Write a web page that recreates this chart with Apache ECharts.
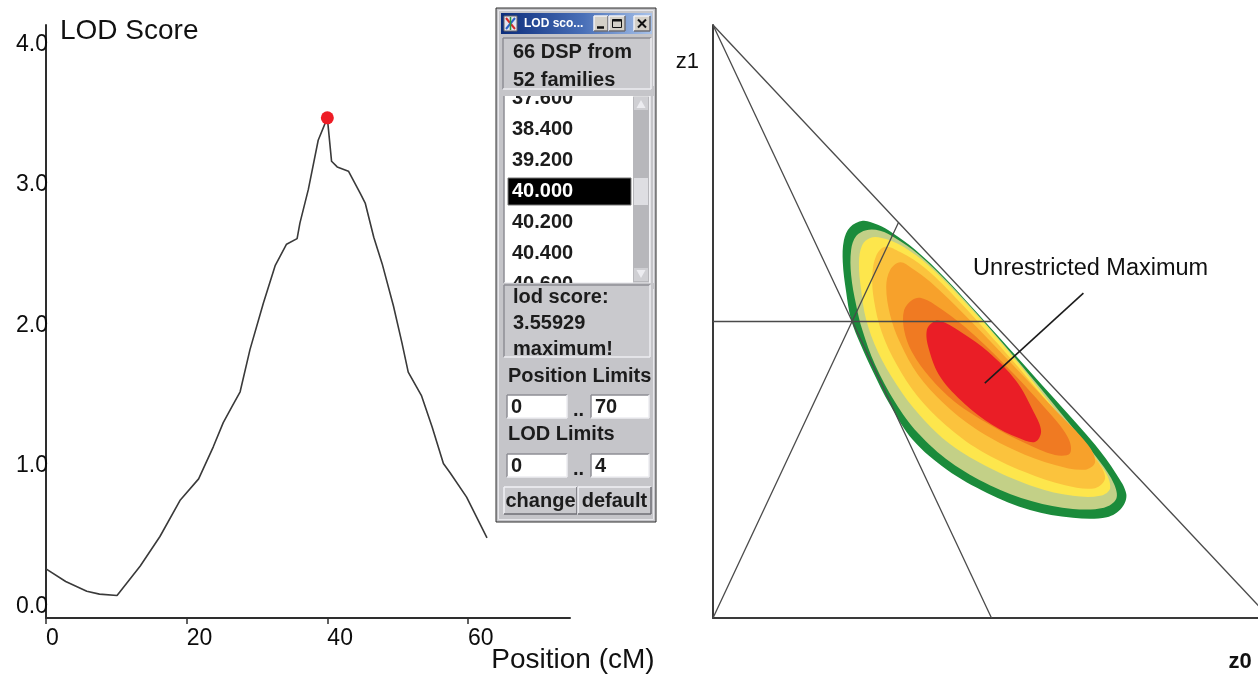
<!DOCTYPE html>
<html>
<head>
<meta charset="utf-8">
<title>LOD score</title>
<script src="https://cdn.jsdelivr.net/npm/echarts@6/dist/echarts.min.js"></script>
<style>
  html, body { margin: 0; padding: 0; background: #fff; }
  #chart { width: 1258px; height: 675px; }
</style>
</head>
<body>
<div id="chart"></div>
<script>
// LOD curve: position (cM) / LOD score
var positions = [0, 2.8, 5.8, 7.6, 10.1, 13.4, 16.2, 19.1, 21.7, 23.8, 25.2, 26.4, 27.6, 29.0, 30.9,
  32.6, 34.2, 35.7, 36.1, 37.3, 38.7, 40.0, 40.6, 41.4, 43.0, 44.7, 45.4, 46.6, 47.8, 49.4,
  50.6, 51.5, 53.4, 54.9, 56.5, 57.5, 59.8, 62.7];
var lodScores = [0.35, 0.26, 0.19, 0.17, 0.16, 0.37, 0.58, 0.84, 0.99, 1.22, 1.39, 1.50, 1.61, 1.91, 2.24,
  2.51, 2.66, 2.70, 2.81, 3.05, 3.40, 3.55929, 3.25, 3.21, 3.18, 3.02, 2.95, 2.71, 2.52, 2.22,
  1.96, 1.75, 1.58, 1.36, 1.10, 1.03, 0.86, 0.57];
var peak = [40.0, 3.55929];
var xTicks = [0, 20, 40, 60];
var yTicks = [0, 1, 2, 3, 4];

// window panel texts
var windowTitle = 'LOD sco...';
var infoLines = ['66 DSP from', '52 families'];
var listItems = ['37.600', '38.400', '39.200', '40.000', '40.200', '40.400', '40.600'];
var selectedItem = '40.000';
var lodLines = ['lod score:', '3.55929', 'maximum!'];
var positionLimits = ['0', '70'];
var lodLimits = ['0', '4'];
var buttons = ['change', 'default'];

// z0 / z1 triangle
var hypotenuse = [[0, 1], [1, 0]];
var apexLine = [[0, 1], [0.5, 0]];
var originLine = [[0, 0], [0.333, 0.667]];
var halfLine = [[0, 0.5], [0.5, 0.5]];
var leaderLine = [[0.665, 0.548], [0.488, 0.396]];
var labelPoint = [0.467, 0.59];

// likelihood contours, outer to inner (z0, z1)
var contourGreen = [[0.269, 0.670], [0.246, 0.659], [0.235, 0.637], [0.233, 0.600], [0.239, 0.550], [0.248, 0.503],
  [0.266, 0.459], [0.286, 0.418], [0.318, 0.359], [0.359, 0.300], [0.420, 0.250], [0.492, 0.211], [0.569, 0.182],
  [0.646, 0.169], [0.707, 0.170], [0.734, 0.186], [0.742, 0.209], [0.724, 0.243], [0.686, 0.292], [0.623, 0.359],
  [0.515, 0.472], [0.417, 0.573], [0.363, 0.621], [0.323, 0.649], [0.296, 0.663]];
var contourKhaki = [[0.275, 0.654], [0.257, 0.644], [0.248, 0.621], [0.248, 0.578], [0.257, 0.528], [0.268, 0.486],
  [0.291, 0.427], [0.327, 0.364], [0.368, 0.312], [0.426, 0.263], [0.497, 0.224], [0.573, 0.197], [0.646, 0.184],
  [0.702, 0.186], [0.724, 0.201], [0.720, 0.226], [0.695, 0.263], [0.632, 0.337], [0.524, 0.459], [0.426, 0.562],
  [0.368, 0.614], [0.327, 0.641], [0.300, 0.653]];
var contourYellow = [[0.282, 0.641], [0.268, 0.629], [0.262, 0.600], [0.266, 0.553], [0.275, 0.503], [0.296, 0.449],
  [0.330, 0.393], [0.372, 0.341], [0.426, 0.293], [0.497, 0.253], [0.578, 0.221], [0.646, 0.206], [0.695, 0.206],
  [0.713, 0.219], [0.702, 0.250], [0.641, 0.320], [0.533, 0.447], [0.435, 0.550], [0.375, 0.604], [0.332, 0.631],
  [0.303, 0.641]];
var contourLightOrange = [[0.309, 0.626], [0.293, 0.611], [0.286, 0.578], [0.289, 0.536], [0.303, 0.482],
  [0.330, 0.427], [0.368, 0.373], [0.417, 0.326], [0.479, 0.283], [0.560, 0.246], [0.632, 0.224], [0.686, 0.219],
  [0.704, 0.236], [0.689, 0.266], [0.632, 0.329], [0.537, 0.435], [0.443, 0.533], [0.381, 0.590], [0.336, 0.617]];
var contourOrange = [[0.336, 0.600], [0.318, 0.587], [0.311, 0.558], [0.318, 0.511], [0.336, 0.464], [0.368, 0.410],
  [0.413, 0.363], [0.470, 0.320], [0.542, 0.283], [0.614, 0.258], [0.668, 0.250], [0.686, 0.263], [0.673, 0.292],
  [0.614, 0.351], [0.533, 0.432], [0.452, 0.511], [0.390, 0.567], [0.357, 0.590]];
var contourDarkOrange = [[0.357, 0.536], [0.343, 0.519], [0.343, 0.486], [0.357, 0.449], [0.390, 0.405],
  [0.435, 0.364], [0.497, 0.326], [0.560, 0.295], [0.614, 0.275], [0.641, 0.278], [0.637, 0.305], [0.596, 0.354],
  [0.524, 0.427], [0.452, 0.491], [0.399, 0.528], [0.372, 0.540]];
var contourRed = [[0.399, 0.501], [0.384, 0.486], [0.388, 0.452], [0.409, 0.405], [0.452, 0.361], [0.501, 0.326],
  [0.548, 0.304], [0.578, 0.297], [0.589, 0.315], [0.576, 0.347], [0.544, 0.400], [0.494, 0.449], [0.447, 0.481],
  [0.417, 0.498]];

var contours = [contourGreen, contourKhaki, contourYellow, contourLightOrange, contourOrange, contourDarkOrange, contourRed];
var contourColors = ['#1b8b3b', '#c3d087', '#fde64c', '#fbc33d', '#f7a12b', '#f07a22', '#ea1e26'];

var FONT = "'Liberation Sans', Arial, Helvetica, sans-serif";
var PANEL_BG = '#c5c5c9';

function rect(x, y, w, h, fill, stroke, z) {
    return { type: 'rect', shape: { x: x, y: y, width: w, height: h },
        style: { fill: fill || 'none', stroke: stroke || null, lineWidth: 1 }, z: z || 10, silent: true };
}
function line(x1, y1, x2, y2, color, width, z) {
    return { type: 'line', shape: { x1: x1, y1: y1, x2: x2, y2: y2 },
        style: { stroke: color, lineWidth: width || 1 }, z: z || 10, silent: true };
}
function text(x, y, s, opt) {
    opt = opt || {};
    return { type: 'text', z: opt.z || 12, silent: true,
        style: { x: x, y: y, text: s, fill: opt.fill || '#1c1c1c',
            font: (opt.weight || 'bold') + ' ' + (opt.size || 20) + 'px ' + FONT,
            align: opt.align || 'left', verticalAlign: 'middle' } };
}
function sunken(x, y, w, h, fill, z) {
    return [
        rect(x, y, w, h, fill, null, z),
        line(x, y, x + w, y, '#8e8e94', 1.5, z),
        line(x, y, x, y + h, '#8e8e94', 1.5, z),
        line(x, y + h, x + w, y + h, '#ececf0', 1.5, z),
        line(x + w, y, x + w, y + h, '#ececf0', 1.5, z)
    ];
}
function raised(x, y, w, h, fill, z) {
    return [
        rect(x, y, w, h, fill, null, z),
        line(x, y, x + w, y, '#f0f0f4', 1.5, z),
        line(x, y, x, y + h, '#f0f0f4', 1.5, z),
        line(x, y + h, x + w, y + h, '#6e6e74', 1.5, z),
        line(x + w, y, x + w, y + h, '#6e6e74', 1.5, z)
    ];
}

function buildPanel() {
    var els = [];
    // window frame
    els.push(rect(496, 8, 160, 514, PANEL_BG, '#2e2e2e', 5));
    els.push(rect(498.5, 10.5, 155, 509, null, '#e8e8ec', 6));
    // title bar
    var bar = rect(501, 13, 151, 21, '#0a2a78', null, 7);
    bar.style.fill = new echarts.graphic.LinearGradient(0, 0, 1, 0, [
        { offset: 0, color: '#0c2d7c' }, { offset: 0.55, color: '#4a70b8' }, { offset: 1, color: '#a9c3ea' }]);
    els.push(bar);
    els.push(rect(504, 16, 13, 15, '#e4e4f0', '#666', 8));
    els.push(line(506, 18, 515, 29, '#d42a2a', 2, 9));
    els.push(line(515, 18, 506, 29, '#2a62c8', 2, 9));
    els.push(line(510.5, 17, 510.5, 30, '#2a9a3a', 1.5, 9));
    els.push(text(524, 23.5, windowTitle, { fill: '#ffffff', size: 12, z: 9 }));
    // caption buttons
    els = els.concat(raised(594, 16, 14, 15, '#d4d0c8', 8));
    els = els.concat(raised(609, 16, 16, 15, '#d4d0c8', 8));
    els = els.concat(raised(634, 16, 16, 15, '#d4d0c8', 8));
    els.push(line(597, 27.5, 604, 27.5, '#111', 2.5, 9));
    els.push(rect(612.5, 19.5, 9, 8, null, '#111', 9));
    els.push(line(612.5, 20.5, 621.5, 20.5, '#111', 2, 9));
    els.push(line(638, 19.5, 646, 27.5, '#111', 2, 9));
    els.push(line(646, 19.5, 638, 27.5, '#111', 2, 9));

    // list box with items (clipped by covers drawn above)
    els = els.concat(sunken(504, 95, 146, 188, '#ffffff', 10));
    listItems.forEach(function (s, i) {
        var y = 98 + 31 * i;
        var sel = s === selectedItem;
        if (sel) els.push(rect(508, y - 13, 123, 27, '#000000', '#777', 11));
        els.push(text(512, y, s, { fill: sel ? '#ffffff' : '#1c1c1c', z: 12 }));
    });
    // scrollbar
    els.push(rect(633, 96.5, 16, 186, '#b7b7bb', null, 12.5));
    els.push(rect(634, 97, 14, 13, '#cfcfd3', null, 12.6));
    els.push({ type: 'polygon', shape: { points: [[636.5, 108], [645.5, 108], [641, 100]] },
        style: { fill: '#ececf0' }, z: 12.7, silent: true });
    els.push(rect(634, 178, 14, 27, '#dedee2', null, 12.6));
    els.push(rect(634, 268, 14, 13, '#cfcfd3', null, 12.6));
    els.push({ type: 'polygon', shape: { points: [[636.5, 270], [645.5, 270], [641, 278]] },
        style: { fill: '#ececf0' }, z: 12.7, silent: true });
    // covers for clipped items
    els.push(rect(500, 86, 154, 10, PANEL_BG, null, 13));
    els.push(rect(500, 283, 154, 6, PANEL_BG, null, 13));

    // info box
    els = els.concat(sunken(503, 38, 148, 51, '#c9c9cd', 14));
    els.push(text(513, 52.5, infoLines[0], { z: 15 }));
    els.push(text(513, 80, infoLines[1], { z: 15 }));

    // lod score box
    els = els.concat(sunken(504, 285, 146, 72, '#c9c9cd', 14));
    els.push(text(513, 297.5, lodLines[0], { z: 15 }));
    els.push(text(513, 323, lodLines[1], { z: 15 }));
    els.push(text(513, 349, lodLines[2], { z: 15 }));

    // limits
    els.push(text(508, 376, 'Position Limits', { z: 15 }));
    els = els.concat(sunken(507, 395, 60, 23, '#ffffff', 14));
    els = els.concat(sunken(591, 395, 58, 23, '#ffffff', 14));
    els.push(text(511, 407, positionLimits[0], { z: 15 }));
    els.push(text(573, 410, '..', { z: 15 }));
    els.push(text(595, 407, positionLimits[1], { z: 15 }));

    els.push(text(508, 434, 'LOD Limits', { z: 15 }));
    els = els.concat(sunken(507, 454, 60, 23, '#ffffff', 14));
    els = els.concat(sunken(591, 454, 58, 23, '#ffffff', 14));
    els.push(text(511, 466, lodLimits[0], { z: 15 }));
    els.push(text(573, 469, '..', { z: 15 }));
    els.push(text(595, 466, lodLimits[1], { z: 15 }));

    // buttons
    els = els.concat(raised(504, 487, 73, 27, '#c9c9cd', 14));
    els = els.concat(raised(578, 487, 73, 27, '#c9c9cd', 14));
    els.push(text(540.5, 501, buttons[0], { align: 'center', z: 15 }));
    els.push(text(614.5, 501, buttons[1], { align: 'center', z: 15 }));
    return els;
}

function segment(name, data, color, width) {
    return {
        name: name, type: 'line', xAxisIndex: 1, yAxisIndex: 1,
        data: data, symbol: 'none', silent: true, z: 5,
        lineStyle: { color: color, width: width }
    };
}

var chart = echarts.init(document.getElementById('chart'));

var option = {
    animation: false,
    backgroundColor: '#ffffff',
    textStyle: { fontFamily: FONT },
    grid: [
        { left: 46, top: 25, width: 524, height: 593, outerBoundsMode: 'none', containLabel: false },
        { left: 713, top: 25, width: 557, height: 593, outerBoundsMode: 'none', containLabel: false }
    ],
    xAxis: [
        {
            type: 'value', gridIndex: 0, min: 0, max: 74.5,
            name: 'Position (cM)', nameLocation: 'end', nameGap: 3, nameMoveOverlap: false,
            nameTextStyle: { fontSize: 28, color: '#111', align: 'center', verticalAlign: 'top', padding: [28, 0, 0, 0] },
            axisLine: { show: true, onZero: false, lineStyle: { color: '#2e2e2e', width: 2 } },
            axisTick: { show: true, customValues: xTicks, length: 6, inside: false, lineStyle: { color: '#2e2e2e', width: 1.5 } },
            axisLabel: { show: true, customValues: xTicks, align: 'left', margin: 9, fontSize: 23, color: '#0c0c0c' },
            splitLine: { show: false }
        },
        {
            type: 'value', gridIndex: 1, min: 0, max: 1,
            name: 'z0', nameLocation: 'end', nameGap: -30, nameMoveOverlap: false,
            nameTextStyle: { fontSize: 22, fontWeight: 'bold', color: '#111', align: 'center', verticalAlign: 'top', padding: [33, 0, 0, 0] },
            axisLine: { show: true, onZero: false, lineStyle: { color: '#3a3a3a', width: 2 } },
            axisTick: { show: false }, axisLabel: { show: false }, splitLine: { show: false }
        }
    ],
    yAxis: [
        {
            type: 'value', gridIndex: 0, min: 0, max: 4.22,
            name: 'LOD Score', nameLocation: 'end', nameGap: -6, nameMoveOverlap: false,
            nameTextStyle: { fontSize: 28, color: '#111', align: 'left', verticalAlign: 'middle', padding: [0, 0, 0, 14] },
            axisLine: { show: true, onZero: false, lineStyle: { color: '#2e2e2e', width: 2 } },
            axisTick: { show: false },
            axisLabel: {
                show: true, customValues: yTicks, align: 'right', verticalAlign: 'bottom', margin: -2,
                fontSize: 23, color: '#0c0c0c',
                formatter: function (v) { return v.toFixed(1); }
            },
            splitLine: { show: false }
        },
        {
            type: 'value', gridIndex: 1, min: 0, max: 1,
            name: 'z1', nameLocation: 'end', nameGap: -37, nameMoveOverlap: false,
            nameTextStyle: { fontSize: 22, color: '#111', align: 'right', verticalAlign: 'middle', padding: [0, 14, 0, 0] },
            axisLine: { show: true, onZero: false, lineStyle: { color: '#3a3a3a', width: 2 } },
            axisTick: { show: false }, axisLabel: { show: false }, splitLine: { show: false }
        }
    ],
    graphic: { elements: buildPanel() },
    series: [
        {
            name: 'LOD', type: 'line', xAxisIndex: 0, yAxisIndex: 0,
            data: positions.map(function (p, i) { return [p, lodScores[i]]; }),
            symbol: 'none', lineStyle: { color: '#3a3a3a', width: 1.6 }, z: 3
        },
        {
            name: 'peak', type: 'scatter', xAxisIndex: 0, yAxisIndex: 0,
            data: [peak], symbol: 'circle', symbolSize: 13,
            itemStyle: { color: '#ee1c25', opacity: 1 }, z: 4
        },
        {
            name: 'contours', type: 'custom', xAxisIndex: 1, yAxisIndex: 1, silent: true, z: 2,
            data: contours.map(function (c) { return c[0]; }),
            renderItem: function (params, api) {
                var i = params.dataIndex;
                var pts = contours[i].map(function (p) { return api.coord(p); });
                return {
                    type: 'polygon', z2: i,
                    shape: { points: pts, smooth: 0.35 },
                    style: { fill: contourColors[i], stroke: null }
                };
            }
        },
        segment('hypotenuse', hypotenuse, '#4a4a4a', 1.3),
        segment('apex', apexLine, '#4a4a4a', 1.3),
        segment('origin', originLine, '#4a4a4a', 1.3),
        segment('half', halfLine, '#4a4a4a', 1.6),
        segment('leader', leaderLine, '#1c1c1c', 1.6),
        {
            name: 'label', type: 'scatter', xAxisIndex: 1, yAxisIndex: 1,
            data: [labelPoint], symbolSize: 0, silent: true,
            itemStyle: { opacity: 1 },
            label: {
                show: true, position: 'right', distance: 0,
                formatter: 'Unrestricted Maximum',
                fontSize: 23.5, color: '#111', opacity: 1, fontFamily: FONT
            }
        }
    ]
};

chart.setOption(option);
</script>
</body>
</html>
